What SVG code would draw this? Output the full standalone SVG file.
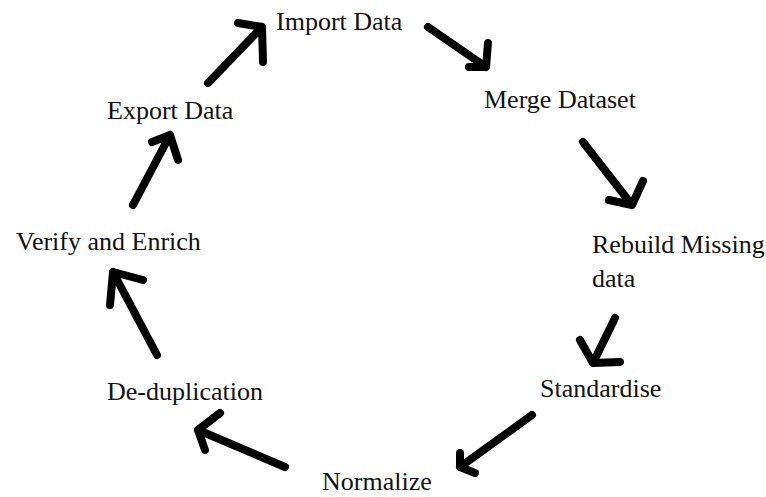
<svg xmlns="http://www.w3.org/2000/svg" width="766" height="497" viewBox="0 0 766 497">
<style>
text{font-family:"Liberation Serif","Times New Roman",serif;font-size:26px;fill:#111}
.a{fill:none;stroke:#000;stroke-width:8;stroke-linecap:round;stroke-linejoin:round}
</style>
<rect width="766" height="497" fill="#fff"/>
<g id="import"><text x="276" y="30">Import Data</text></g>
<g id="merge"><text x="484" y="108">Merge Dataset</text></g>
<g id="rebuild"><text x="592" y="253">Rebuild Missing</text><text x="592" y="287">data</text></g>
<g id="standardise"><text x="540" y="397">Standardise</text></g>
<g id="normalize"><text x="322" y="490">Normalize</text></g>
<g id="dedup"><text x="107" y="400">De-duplication</text></g>
<g id="verify"><text x="16" y="250">Verify and Enrich</text></g>
<g id="export"><text x="107" y="119">Export Data</text></g>
<g id="connectors">
<path class="a" d="M208 83L262 27M238 23L262 27L263 62"/>
<path class="a" d="M428 27L486 67M488 43L486 67L469 67"/>
<path class="a" d="M583 142L632 205M643 181L632 205L609 200"/>
<path class="a" d="M615 318L593 363M580 340L593 363L620 362"/>
<path class="a" d="M532 415L460 467M460 453L460 467L475 473"/>
<path class="a" d="M285 467L198 430M220 413L198 430L205 450"/>
<path class="a" d="M157 355L113 272M143 280L113 272L110 305"/>
<path class="a" d="M133 205L170 135M152 142L170 135L178 160"/>
</g>
</svg>
